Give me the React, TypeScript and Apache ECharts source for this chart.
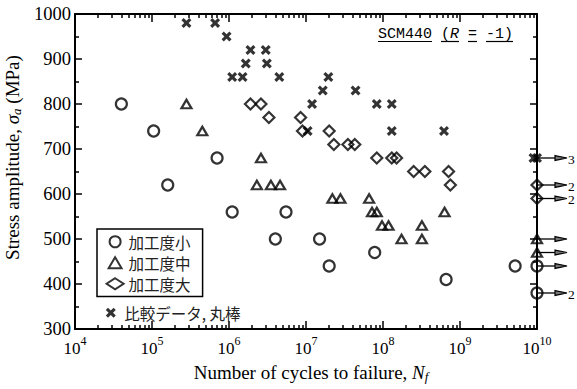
import React, { useEffect, useRef } from 'react';
import * as echarts from 'echarts';

// ---- data (cycles to failure N, stress amplitude MPa) ----
const RUNOUT_N = 1e10;

const smallN = [4e4, 1.05e5, 1.6e5, 7e5, 1.1e6, 5.5e6, 4e6, 1.5e7, 2e7, 7.8e7, 6.6e8, 5.2e9];
const smallS = [800, 740, 620, 680, 560, 560, 500, 500, 440, 470, 410, 440];
const smallRunS = [440, 380];

const midN = [2.8e5, 4.5e5, 2.6e6, 2.3e6, 3.5e6, 4.6e6, 2.2e7, 2.8e7, 6.6e7, 7.2e7, 8.3e7, 9.7e7, 1.18e8, 1.74e8, 3.2e8, 3.2e8, 6.3e8];
const midS = [800, 740, 680, 620, 620, 620, 590, 590, 590, 560, 560, 530, 530, 500, 530, 500, 560];
const midRunS = [500, 470];

const largeN = [1.9e6, 2.6e6, 3.3e6, 8.5e6, 9e6, 2e7, 2.3e7, 3.5e7, 4.3e7, 8.3e7, 1.3e8, 1.5e8, 2.5e8, 3.5e8, 7.1e8, 7.5e8];
const largeS = [800, 800, 770, 770, 740, 740, 710, 710, 710, 680, 680, 680, 650, 650, 650, 620];
const largeRunS = [620, 590];

const refN = [2.8e5, 6.6e5, 9.3e5, 1.1e6, 1.5e6, 1.65e6, 1.9e6, 3.0e6, 3.1e6, 4.5e6, 1.05e7, 1.2e7, 1.65e7, 1.95e7, 4.4e7, 8.3e7, 1.3e8, 1.3e8, 6.2e8, 9e9];
const refS = [980, 980, 950, 860, 860, 890, 920, 920, 890, 860, 740, 800, 830, 860, 830, 800, 800, 740, 740, 680];
const refRunS = [680];

const arrowS = [680, 620, 590, 500, 470, 440, 380];
const arrowCount = ['3', '2', '2', '', '', '', '2'];

const seriesNames = ['加工度小', '加工度中', '加工度大', '比較データ, 丸棒'];
const xExpMin = 4;
const xExpMax = 10;
const yMin = 300;
const yMax = 1000;

const SERIF = 'Liberation Serif';
const CJK = 'Noto Sans CJK JP';
const MONO = 'Liberation Mono';

const TRI = 'path://M5,0L10,8.5L0,8.5Z';
const CROSS = 'path://M0,2.2L2.2,0L5,2.8L7.8,0L10,2.2L7.2,5L10,7.8L7.8,10L5,7.2L2.2,10L0,7.8L2.8,5Z';

function pts(ns: number[], ss: number[]) {
  return ns.map((n, i) => [Math.log10(n), ss[i]]);
}
function runPts(ss: number[]) {
  return ss.map((s) => [Math.log10(RUNOUT_N), s]);
}

export default function App() {
  const ref = useRef<HTMLDivElement>(null);
  useEffect(() => {
    if (!ref.current) return;
    const chart = echarts.init(ref.current, null, { renderer: 'svg' });

    const minorVals: number[] = [];
    for (let e = xExpMin; e < xExpMax; e++) {
      for (let k = 2; k <= 9; k++) minorVals.push(e + Math.log10(k));
    }

    const axisLineStyle = { color: '#000', width: 2 };
    const tickStyle = { color: '#000', width: 1.5 };

    const hollow = { color: 'rgba(0,0,0,0)', borderColor: '#000', borderWidth: 2.2 };

    const titleX = 378;
    const charW = 9;
    const ulY = 41.5;
    const ulSegs = [[0, 6], [7, 9], [10, 11], [12, 15]];

    const nameRich = {
      t: { fontFamily: SERIF, fontSize: 19, color: '#000', lineHeight: 20, verticalAlign: 'top' },
      i: { fontFamily: SERIF, fontSize: 19, fontStyle: 'italic', color: '#000', lineHeight: 20, verticalAlign: 'top' },
      sub: { fontFamily: SERIF, fontSize: 13, fontStyle: 'italic', color: '#000', lineHeight: 13, verticalAlign: 'bottom' },
    };

    const option: any = {
      animation: false,
      backgroundColor: '#fff',
      textStyle: { fontFamily: SERIF },
      grid: { left: 75, right: 40, top: 14, bottom: 60, containLabel: false, outerBoundsMode: 'none' },
      xAxis: [
        {
          type: 'value', min: xExpMin, max: xExpMax, interval: 1, position: 'bottom',
          axisLine: { show: true, onZero: false, lineStyle: axisLineStyle },
          axisTick: { show: true, inside: true, length: 8, lineStyle: tickStyle },
          axisLabel: {
            margin: 6,
            fontFamily: SERIF,
            formatter: (v: number) => `{b|10}{s|${v}}`,
            rich: {
              b: { fontFamily: SERIF, fontSize: 17, color: '#000', lineHeight: 22, verticalAlign: 'bottom' },
              s: { fontFamily: SERIF, fontSize: 12, color: '#000', lineHeight: 12, verticalAlign: 'top' },
            },
          },
          splitLine: { show: false },
          name: '{t|Number of cycles to failure, }{i|N}{sub|f}',
          nameLocation: 'middle',
          nameGap: 34,
          nameTextStyle: { fontFamily: SERIF, rich: nameRich, padding: [0, 0, 0, 10] },
        },
        {
          type: 'value', min: xExpMin, max: xExpMax, interval: 1, position: 'top',
          axisLine: { show: true, onZero: false, lineStyle: axisLineStyle },
          axisTick: { show: true, inside: true, length: 8, lineStyle: tickStyle },
          axisLabel: { show: false },
          splitLine: { show: false },
        },
        {
          type: 'value', min: xExpMin, max: xExpMax, position: 'bottom',
          axisLine: { show: false },
          axisTick: { show: true, inside: true, length: 4, customValues: minorVals, lineStyle: tickStyle },
          axisLabel: { show: false },
          splitLine: { show: false },
        },
        {
          type: 'value', min: xExpMin, max: xExpMax, position: 'top',
          axisLine: { show: false },
          axisTick: { show: true, inside: true, length: 4, customValues: minorVals, lineStyle: tickStyle },
          axisLabel: { show: false },
          splitLine: { show: false },
        },
      ],
      yAxis: [
        {
          type: 'value', min: yMin, max: yMax, interval: 100, position: 'left',
          axisLine: { show: true, onZero: false, lineStyle: axisLineStyle },
          axisTick: { show: true, inside: true, length: 7, lineStyle: tickStyle },
          minorTick: { show: true, splitNumber: 2, length: 4, lineStyle: tickStyle },
          axisLabel: { margin: 4, fontFamily: SERIF, fontSize: 18.5, color: '#000', formatter: (v: number) => String(v) },
          splitLine: { show: false },
          minorSplitLine: { show: false },
          name: '{t|Stress amplitude, }{i|σ}{sub|a}{t| (MPa)}',
          nameLocation: 'middle',
          nameGap: 27,
          nameTextStyle: { fontFamily: SERIF, rich: nameRich, padding: [0, 0, 0, 28] },
        },
        {
          type: 'value', min: yMin, max: yMax, interval: 100, position: 'right',
          axisLine: { show: true, onZero: false, lineStyle: axisLineStyle },
          axisTick: { show: true, inside: true, length: 7, lineStyle: tickStyle },
          minorTick: { show: true, splitNumber: 2, length: 4, lineStyle: tickStyle },
          axisLabel: { show: false },
          splitLine: { show: false },
          minorSplitLine: { show: false },
        },
      ],
      legend: [
        {
          data: seriesNames.slice(0, 3),
          orient: 'vertical',
          left: 97,
          top: 229,
          padding: [5, 12, 5, 8.6],
          itemGap: 5.5,
          itemWidth: 17,
          itemHeight: 11,
          borderColor: '#000',
          borderWidth: 1.5,
          borderRadius: 0,
          selectedMode: false,
          textStyle: { fontFamily: CJK, fontSize: 15.5, lineHeight: 15.5, color: '#222' },
        },
        {
          data: [seriesNames[3]],
          orient: 'vertical',
          left: 105.8,
          top: 304.7,
          padding: 0,
          itemWidth: 17,
          itemHeight: 10,
          selectedMode: false,
          textStyle: { fontFamily: CJK, fontSize: 15.5, lineHeight: 16, color: '#222' },
        },
      ],
      graphic: [
        {
          type: 'text',
          x: titleX,
          y: 34,
          style: {
            text: '{a|SCM440 (}{i|R}{a| = -1)}',
            textAlign: 'left',
            textVerticalAlign: 'middle',
            rich: {
              a: { fontFamily: MONO, fontSize: 15, fill: '#000', color: '#000' },
              i: { fontFamily: MONO, fontSize: 15, fontStyle: 'italic', fill: '#000', color: '#000' },
            },
          },
        },
        ...ulSegs.map(([a, b]) => ({
          type: 'line',
          shape: { x1: titleX + a * charW, y1: ulY, x2: titleX + b * charW, y2: ulY },
          style: { stroke: '#000', lineWidth: 1.2 },
        })),
      ],
      series: [
        {
          name: 'runout',
          type: 'custom',
          xAxisIndex: 0,
          yAxisIndex: 0,
          z: 1,
          clip: false,
          silent: true,
          data: runPts(arrowS),
          renderItem: (params: any, api: any) => {
            const p = api.coord([api.value(0), api.value(1)]);
            const lbl = arrowCount[params.dataIndex];
            const children: any[] = [
              { type: 'line', shape: { x1: p[0], y1: p[1], x2: p[0] + 20, y2: p[1] }, style: { stroke: '#000', lineWidth: 1.3 } },
              {
                type: 'polygon',
                shape: { points: [[p[0] + 18, p[1] - 2.4], [p[0] + 30, p[1]], [p[0] + 18, p[1] + 2.4]] },
                style: { fill: '#777', stroke: '#000', lineWidth: 1.2 },
              },
            ];
            if (lbl) {
              children.push({
                type: 'text',
                style: { text: lbl, x: p[0] + 31, y: p[1] + 1, fill: '#000', font: `13.5px ${SERIF}`, lineHeight: 12, textAlign: 'left', textVerticalAlign: 'middle' },
              });
            }
            return { type: 'group', children };
          },
        },
        {
          name: seriesNames[0], type: 'scatter', z: 3, clip: false,
          symbol: 'circle', symbolSize: 11, itemStyle: hollow,
          data: [...pts(smallN, smallS), ...runPts(smallRunS)],
        },
        {
          name: seriesNames[1], type: 'scatter', z: 3, clip: false,
          symbol: TRI, symbolSize: [10, 8.5], itemStyle: hollow,
          data: [...pts(midN, midS), ...runPts(midRunS)],
        },
        {
          name: seriesNames[2], type: 'scatter', z: 3, clip: false,
          symbol: 'diamond', symbolSize: 11, itemStyle: hollow,
          data: [...pts(largeN, largeS), ...runPts(largeRunS)],
        },
        {
          name: seriesNames[3], type: 'scatter', z: 3, clip: false,
          symbol: CROSS, symbolSize: 10, itemStyle: { color: '#000' },
          data: [...pts(refN, refS), ...runPts(refRunS)],
        },
      ],
    };

    chart.setOption(option);
    return () => chart.dispose();
  }, []);

  return <div ref={ref} style={{ position: 'fixed', left: 0, top: 0, width: 577, height: 389 }} />;
}
